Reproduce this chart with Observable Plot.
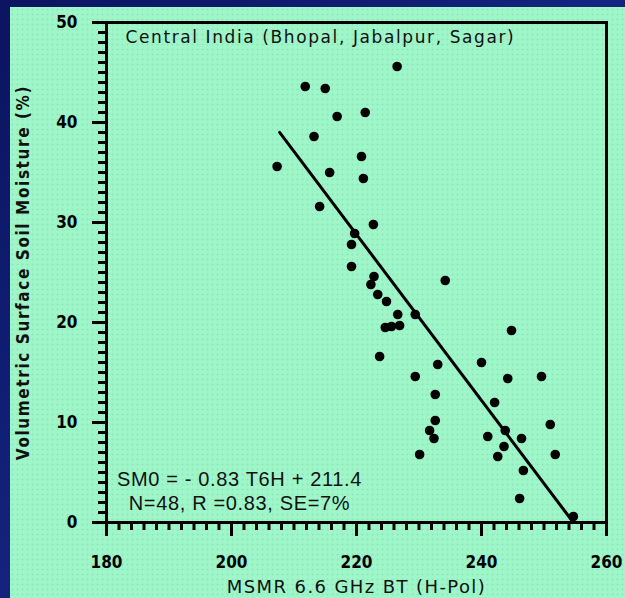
<!DOCTYPE html>
<html>
<head>
<meta charset="utf-8">
<script src="https://cdn.jsdelivr.net/npm/d3@7"></script>
<script src="https://cdn.jsdelivr.net/npm/@observablehq/plot@0.6"></script>
<style>
  html, body { margin: 0; padding: 0; }
  body {
    width: 625px; height: 598px; overflow: hidden; position: relative;
    background: linear-gradient(135deg, #0a1460 0%, #14237e 50%, #0b1664 100%);
  }
  #panel {
    position: absolute; left: 10px; top: 7px; right: 0; bottom: 0;
    background-color: #9ff6c8;
    background-image: radial-gradient(circle, #8ce6bc 0.8px, transparent 1.2px);
    background-size: 5px 5px;
  }
  #chart { position: absolute; left: 0; top: 0; }
  #chart svg { background: transparent; }
</style>
</head>
<body>
<div id="panel"></div>
<div id="chart"></div>
<script>
// ---- data ----
const brightnessTemp = [226.5, 211.8, 215.0, 216.9, 221.4, 213.2, 207.3, 215.7, 220.8, 221.1,
  214.1, 222.7, 219.7, 219.2, 219.2, 222.8, 222.3, 234.2, 223.4, 224.8,
  226.6, 229.4, 224.6, 225.6, 226.9, 223.7, 244.8, 233.0, 229.4, 240.0,
  244.2, 249.6, 232.6, 242.1, 232.6, 231.7, 232.4, 230.1, 241.0, 243.8,
  246.4, 243.6, 242.6, 246.7, 246.1, 251.0, 251.8, 254.7];
const soilMoisture = [45.6, 43.6, 43.4, 40.6, 41.0, 38.6, 35.6, 35.0, 36.6, 34.4,
  31.6, 29.8, 28.9, 27.8, 25.6, 24.6, 23.8, 24.2, 22.8, 22.1,
  20.8, 20.8, 19.5, 19.6, 19.7, 16.6, 19.2, 15.8, 14.6, 16.0,
  14.4, 14.6, 12.8, 12.0, 10.2, 9.2, 8.4, 6.8, 8.6, 9.2,
  8.4, 7.6, 6.6, 5.2, 2.4, 9.8, 6.8, 0.6];
const fitSlope = -0.83;
const fitIntercept = 211.4;
const fitRangeX = [207.7, 254.7];
const xTicks = [180, 200, 220, 240, 260];
const yTicks = [0, 10, 20, 30, 40, 50];
const xMinorTicks = d3.range(180, 261, 2);
const yMinorTicks = d3.range(0, 51, 1);
const titleText = "Central India (Bhopal, Jabalpur, Sagar)";
const equationText = "SM0 = - 0.83 T6H + 211.4\nN=48, R =0.83, SE=7%";
const xLabel = "MSMR 6.6 GHz BT (H-Pol)";
const yLabel = "Volumetric Surface Soil Moisture (%)";

const points = brightnessTemp.map((x, i) => ({x, y: soilMoisture[i]}));
const fitLine = fitRangeX.map(x => ({x, y: fitSlope * x + fitIntercept}));

const tickFont = {fontFamily: "'DejaVu Sans Condensed', 'DejaVu Sans', sans-serif", fontWeight: "bold", fontSize: 17};

// letter-spacing helper applied through the mark's render hook
const spaced = (px) => (index, scales, values, dims, context, next) => {
  const g = next(index, scales, values, dims, context);
  d3.select(g).selectAll("text").style("letter-spacing", px + "px");
  return g;
};

const chart = Plot.plot({
  width: 625,
  height: 598,
  marginLeft: 106,
  marginRight: 19,
  marginTop: 22,
  marginBottom: 76,
  style: {background: "transparent", color: "#111", overflow: "visible"},
  x: {domain: [180, 260]},
  y: {domain: [0, 50]},
  marks: [
    Plot.axisX(xMinorTicks, {tickSize: 8, strokeWidth: 3, text: null, label: null, stroke: "#000"}),
    Plot.axisX(xTicks, {tickSize: 14, strokeWidth: 3, tickPadding: 19, label: null, stroke: "#000", fill: "#000", ...tickFont}),
    Plot.axisY(yMinorTicks, {tickSize: 8, strokeWidth: 3, text: null, label: null, stroke: "#000"}),
    Plot.axisY(yTicks, {tickSize: 14, strokeWidth: 3, tickPadding: 15, label: null, stroke: "#000", fill: "#000", ...tickFont}),
    Plot.frame({stroke: "#000", strokeWidth: 3}),
    Plot.line(fitLine, {x: "x", y: "y", stroke: "#000", strokeWidth: 3}),
    Plot.dot(points, {x: "x", y: "y", r: 4.8, fill: "#000", stroke: "none"}),
    Plot.text([titleText], {frameAnchor: "top-left", dx: 19, dy: 8, lineAnchor: "top", textAnchor: "start",
      fontFamily: "'DejaVu Sans', sans-serif", fontSize: 17, fill: "#111", render: spaced(1.6)}),
    Plot.text([equationText], {frameAnchor: "bottom-left", dx: 133, dy: -13, lineAnchor: "bottom", textAnchor: "middle",
      lineHeight: 1.2, fontFamily: "'Liberation Sans', Arial, sans-serif", fontSize: 20, fill: "#111", render: spaced(0.65)}),
    Plot.text([xLabel], {frameAnchor: "bottom", dy: 58, lineAnchor: "top", textAnchor: "middle",
      fontFamily: "'DejaVu Sans', sans-serif", fontSize: 18, fill: "#111", render: spaced(1.4)}),
    Plot.text([yLabel], {frameAnchor: "left", dx: -83, rotate: -90, textAnchor: "middle",
      fontFamily: "'DejaVu Sans Condensed', 'DejaVu Sans', sans-serif", fontWeight: "bold", fontSize: 17, fill: "#111", render: spaced(1.6)})
  ]
});
document.getElementById("chart").appendChild(chart);
</script>
</body>
</html>
